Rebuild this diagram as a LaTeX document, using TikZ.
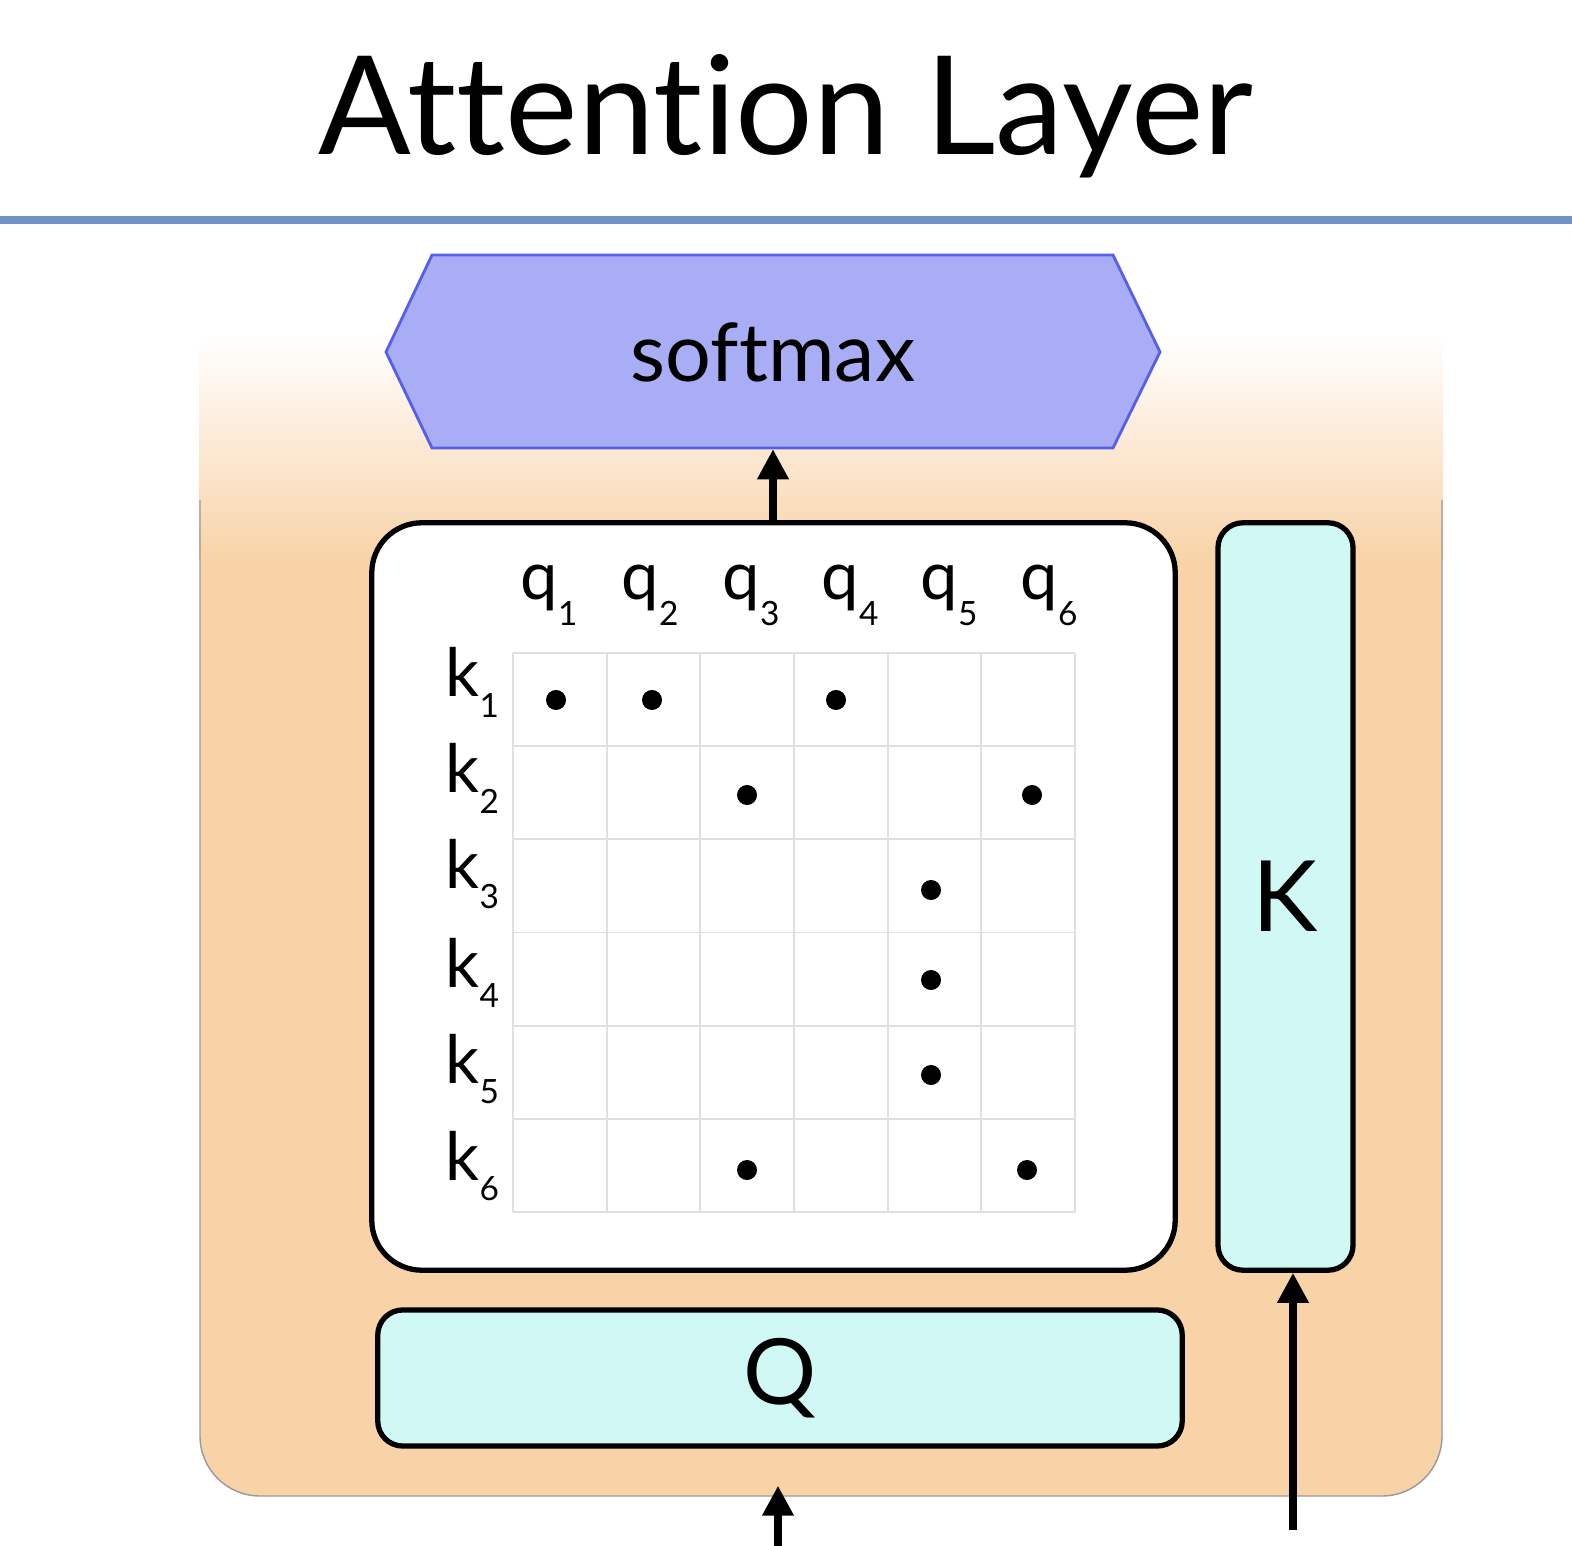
\documentclass[tikz,border=0pt]{standalone}
\usepackage{fontspec}
\setmainfont{Lato}[Ligatures={NoCommon,NoRequired,NoContextual}]
\usetikzlibrary{arrows.meta}
\definecolor{contorange}{HTML}{F8D3A8}
\definecolor{cyanbox}{HTML}{D0F8F4}
\definecolor{smxfill}{HTML}{A8ADF5}
\definecolor{smxdraw}{HTML}{5560E8}
\definecolor{rulecol}{HTML}{6E92C4}
\definecolor{gridcol}{HTML}{E0E0E0}
\newcommand{\lsubq}[2]{#1\raisebox{-0.75ex}{\fontsize{9.5}{10}\selectfont #2}}
\newcommand{\lsubk}[2]{#1\raisebox{-0.6ex}{\fontsize{9.5}{10}\selectfont #2}}
\begin{document}
\begin{tikzpicture}[x=0.01cm,y=-0.01cm,
  box/.style={draw=black, line width=1.5pt, fill=cyanbox, rounded corners=0.25cm, inner sep=0pt},
  matbox/.style={draw=black, line width=1.5pt, fill=white, rounded corners=0.5cm, inner sep=0pt},
  arr/.style={line width=2pt, -{Triangle[length=0.3cm,width=0.3cm]}},
  lab/.style={font=\fontsize{19}{20}\selectfont, inner sep=0pt, anchor=base},
  dot/.style={circle, fill=black, inner sep=0pt, minimum size=0.2cm},
  gridline/.style={draw=gridcol, line width=0.5pt}]
\useasboundingbox (0,0) rectangle (1572,1546);
% title
\node[font=\fontsize{39}{40}\selectfont, anchor=base, inner sep=0pt] (title) at (786,155) {Attention Layer};
\draw[rulecol, line width=2.3pt] (0,220) -- (1572,220);
% container
\fill[contorange, rounded corners=0.6cm] (200,340) -- (200,1496) -- (1442,1496) -- (1442,340) -- cycle;
\shade[top color=white, bottom color=contorange] (199,335) rectangle (1443,560);
\draw[black!40, line width=0.4pt] (200,500) [rounded corners=0.6cm] -- (200,1496) -- (1442,1496) -- (1442,500);
% softmax
\draw[fill=smxfill, draw=smxdraw, line width=0.8pt] (386,352) -- (432,255) -- (1113,255) -- (1160,352) -- (1113,448) -- (432,448) -- cycle;
\node[font=\fontsize{23}{24}\selectfont, minimum width=6.81cm, minimum height=1.93cm, inner sep=0pt] (softmax) at (773,352) {softmax};
% matrix box
\node[matbox, minimum width=8.03cm, minimum height=7.47cm] (mat) at (773.5,896.5) {};
% grid
\foreach \i in {0,...,6} {
  \draw[gridline] ({513+\i*93.67},653) -- ({513+\i*93.67},1212);
  \draw[gridline] (513,{653+\i*93.17}) -- (1075,{653+\i*93.17});
}
% q labels
\node[lab] (q1) at (549,600) {\lsubq{q}{1}};
\node[lab] (q2) at (650,600) {\lsubq{q}{2}};
\node[lab] (q3) at (751,600) {\lsubq{q}{3}};
\node[lab] (q4) at (850,600) {\lsubq{q}{4}};
\node[lab] (q5) at (949,600) {\lsubq{q}{5}};
\node[lab] (q6) at (1049,600) {\lsubq{q}{6}};
% k labels
\node[lab, anchor=base west] (k1) at (445,697) {\lsubk{k}{1}};
\node[lab, anchor=base west] (k2) at (445,793) {\lsubk{k}{2}};
\node[lab, anchor=base west] (k3) at (445,888) {\lsubk{k}{3}};
\node[lab, anchor=base west] (k4) at (445,987) {\lsubk{k}{4}};
\node[lab, anchor=base west] (k5) at (445,1083) {\lsubk{k}{5}};
\node[lab, anchor=base west] (k6) at (445,1180) {\lsubk{k}{6}};
% dots
\node[dot] (d11) at (556,700) {};
\node[dot] (d12) at (652,700) {};
\node[dot] (d14) at (836,700) {};
\node[dot] (d23) at (747,795) {};
\node[dot] (d26) at (1032,795) {};
\node[dot] (d35) at (931,890) {};
\node[dot] (d45) at (931,980) {};
\node[dot] (d55) at (931,1075) {};
\node[dot] (d63) at (747,1170) {};
\node[dot] (d66) at (1027,1170) {};
% K and Q boxes
\node[box, minimum width=1.35cm, minimum height=7.47cm, font=\fontsize{28}{30}\selectfont] (K) at (1285.5,896.5) {K};
\node[box, minimum width=8.04cm, minimum height=1.36cm, font=\fontsize{26}{28}\selectfont] (Q) at (780,1378) {Q};
% arrows
\draw[arr] (mat.north -| softmax.south) -- (softmax.south);
\coordinate (qin) at (778,1546);
\coordinate (kin) at (1293,1530);
\draw[arr, shorten >=0.37cm] (qin) -- (qin |- Q.south);
\draw[arr] (kin) -- (kin |- K.south);
\end{tikzpicture}
\end{document}
